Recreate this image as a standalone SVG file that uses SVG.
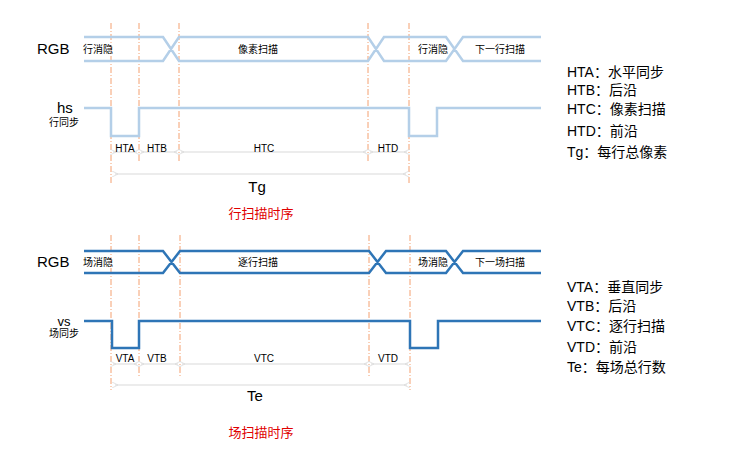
<svg xmlns="http://www.w3.org/2000/svg" width="729" height="456" viewBox="0 0 729 456">
<style>
text{font-family:"Liberation Sans","Noto Sans CJK SC",sans-serif;fill:#000}
.s{font-size:10px;text-anchor:middle}
.l{font-size:15px}
.r{font-size:14px}
.t{font-size:13px;fill:#e00000;text-anchor:middle}
.g1{fill:none;stroke:#b4cfe8;stroke-width:2.5}
.g2{fill:none;stroke:#2e75b6;stroke-width:2.5}
.d{stroke:#f4a070;stroke-width:1;stroke-dasharray:6 2 1 2}
.a{stroke:#d9d9d9;stroke-width:1;marker-start:url(#ar);marker-end:url(#ar)}
</style>
<defs><marker id="ar" viewBox="0 0 8 8" refX="4" refY="4" markerWidth="6" markerHeight="6" orient="auto-start-reverse"><path d="M8,0L0,4L8,8" fill="none" stroke="#d9d9d9"/></marker></defs>
<rect width="729" height="456" fill="#fff"/>
<g id="guides">
<line class="d" x1="111" y1="23" x2="111" y2="183"/><line class="d" x1="139" y1="23" x2="139" y2="163"/><line class="d" x1="179" y1="23" x2="179" y2="163"/><line class="d" x1="368" y1="23" x2="368" y2="163"/><line class="d" x1="409" y1="23" x2="409" y2="183"/>
<line class="d" x1="111" y1="235" x2="111" y2="390"/><line class="d" x1="139" y1="235" x2="139" y2="378"/><line class="d" x1="180" y1="235" x2="180" y2="378"/><line class="d" x1="369" y1="235" x2="369" y2="378"/><line class="d" x1="410" y1="235" x2="410" y2="390"/>
</g>
<g id="connectors">
<path class="g1" d="M84,37H163L179,61H368L384,37H446L463,61H541M84,61H163L179,37H368L384,61H446L463,37H541"/>
<path class="g1" d="M84,108H111V136H139V108H409V136H437V108H541"/>
<path class="g2" d="M84,251H163L180,273H369L386,251H446L463,273H541M84,273H163L180,251H369L386,273H446L463,251H541"/>
<path class="g2" d="M84,321H112V348H139V321H410V348H438V321H541"/>
<line class="a" x1="113" y1="152" x2="137" y2="152"/><line class="a" x1="141" y1="152" x2="177" y2="152"/><line class="a" x1="181" y1="152" x2="366" y2="152"/><line class="a" x1="370" y1="152" x2="407" y2="152"/><line class="a" x1="115" y1="174" x2="406" y2="174"/>
<line class="a" x1="113" y1="364" x2="137" y2="364"/><line class="a" x1="141" y1="364" x2="178" y2="364"/><line class="a" x1="182" y1="364" x2="367" y2="364"/><line class="a" x1="371" y1="364" x2="408" y2="364"/><line class="a" x1="115" y1="385" x2="407" y2="385"/>
</g>
<g id="labels-top">
<text class="l" x="37" y="54">RGB</text><text class="s" x="98" y="53">行消隐</text><text class="s" x="258" y="53">像素扫描</text><text class="s" x="433" y="53">行消隐</text><text class="s" x="500" y="53">下一行扫描</text>
<text class="l" x="57" y="113">hs</text><text class="s" x="64" y="126">行同步</text>
<text class="s" x="125" y="152">HTA</text><text class="s" x="157" y="152">HTB</text><text class="s" x="264" y="152">HTC</text><text class="s" x="388" y="152">HTD</text>
<text class="l" x="257" y="192" text-anchor="middle">Tg</text><text class="t" x="261" y="218">行扫描时序</text>
</g>
<g id="labels-bottom">
<text class="l" x="37" y="267">RGB</text><text class="s" x="98" y="266">场消隐</text><text class="s" x="258" y="266">逐行扫描</text><text class="s" x="433" y="266">场消隐</text><text class="s" x="500" y="266">下一场扫描</text>
<text x="64" y="326" style="font-size:13px;text-anchor:middle">vs</text><text class="s" x="64" y="337">场同步</text>
<text class="s" x="125" y="362">VTA</text><text class="s" x="157" y="362">VTB</text><text class="s" x="264" y="362">VTC</text><text class="s" x="388" y="362">VTD</text>
<text class="l" x="255" y="401" text-anchor="middle">Te</text><text class="t" x="261" y="437">场扫描时序</text>
</g>
<g id="legend">
<text class="r" x="567" y="77">HTA：水平同步</text><text class="r" x="567" y="95">HTB：后沿</text><text class="r" x="567" y="114">HTC：像素扫描</text><text class="r" x="567" y="136">HTD：前沿</text><text class="r" x="567" y="157">Tg：每行总像素</text>
<text class="r" x="567" y="292">VTA：垂直同步</text><text class="r" x="567" y="311">VTB：后沿</text><text class="r" x="567" y="331">VTC：逐行扫描</text><text class="r" x="567" y="352">VTD：前沿</text><text class="r" x="567" y="372">Te：每场总行数</text>
</g>
</svg>
